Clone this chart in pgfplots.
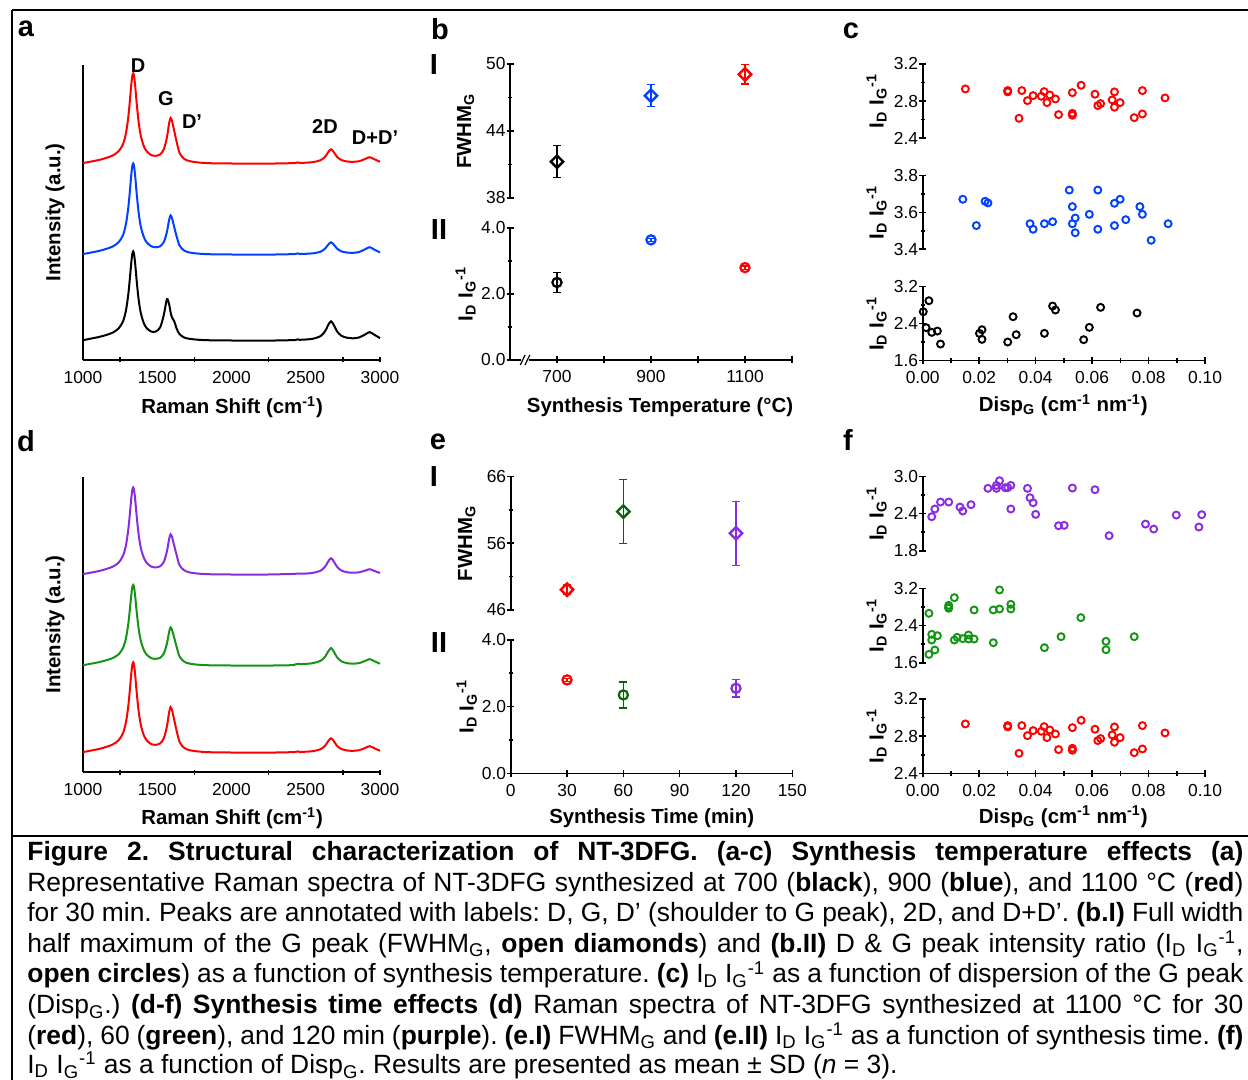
\documentclass[border=0pt]{standalone}
\usepackage{fontspec}
\setmainfont{Liberation Sans}
\usepackage{pgfplots}
\usepackage{pgfplotstable}
\pgfplotsset{compat=1.18}
\definecolor{cblue}{RGB}{0,64,255}
\definecolor{cred}{RGB}{255,0,0}
\definecolor{cpurple}{RGB}{138,43,226}
\definecolor{cgreen}{RGB}{20,150,20}
\definecolor{cdgreen}{RGB}{0,105,0}
\newcommand{\IDG}{I\textsubscript{D} I\textsubscript{G}\textsuperscript{-1}}
\newcommand{\cf}{\fontsize{13.2}{15.3}\selectfont}
\frenchspacing
\pgfplotsset{
 every non boxed x axis/.append style={x axis line style=-},
 every non boxed y axis/.append style={y axis line style=-},
 base/.style={scale only axis, anchor=south west,
  axis line style={line width=0.8pt},
  tick style={line width=0.8pt, black}, tick align=inside,
  major tick length=3.5pt, minor tick length=2.2pt,
  tick label style={font=\fontsize{8.7}{10}\selectfont},
  yticklabel style={xshift=3pt},
  label style={font=\bfseries\fontsize{10.2}{12}\selectfont},
  /pgf/number format/assume math mode=true,
  /pgf/number format/1000 sep={}, clip=false},
 noarrow/.style={x axis line style={-}, y axis line style={-}},
 y1/.style={yticklabel style={/pgf/number format/.cd, fixed, fixed zerofill, precision=1}},
 x2/.style={xticklabel style={/pgf/number format/.cd, fixed, fixed zerofill, precision=2}},
 spec/.style={base, width=148.5pt, height=147.5pt, xmin=1000, xmax=3000, ymin=0, ymax=295,
  axis x line=bottom, axis y line=left, noarrow, ytick=\empty,
  xtick={1000,1500,...,3000}, minor xtick={1250,1750,2250,2750,3000},
  major tick length=0pt, minor tick length=2.5pt, xticklabel style={yshift=-2pt},
  xlabel={Raman Shift (cm\textsuperscript{-1})}, ylabel={Intensity (a.u.)},
  ylabel style={at={(axis description cs:-0.094,0.5)}, anchor=center}},
 disp/.style={base, width=141.2pt, xmin=0, xmax=0.1, axis y line=left, noarrow, y1,
  ylabel={\IDG}, ylabel style={at={(axis description cs:-0.163,0.5)}, anchor=center}},
 dispbot/.style={axis x line=bottom, noarrow, x2, xtick={0,0.02,...,0.1}, minor x tick num=1,
  xlabel={Disp\textsubscript{G} (cm\textsuperscript{-1} nm\textsuperscript{-1})}},
 sc/.style={only marks, mark=o, mark size=1.75pt, mark options={line width=0.95pt}},
 circ/.style={only marks, mark=o, mark size=2.3pt, mark options={line width=1.1pt},
  error bars/.cd, y dir=both, y explicit, error bar style={line width=0.6pt},
  error mark options={rotate=90, mark size=2pt, line width=0.6pt}},
 diam/.style={only marks, mark=square, mark size=2.2pt, mark options={rotate=45, line width=1.2pt},
  error bars/.cd, y dir=both, y explicit, error bar style={line width=0.6pt},
  error mark options={rotate=90, mark size=2pt, line width=0.6pt}},
}
\pgfplotstableread{
x ka ba ra
1000 19.8 105.9 196.9
1100 22.8 108.8 199.8
1150 24.7 110.8 201.8
1200 27.4 113.5 204.5
1240 31.6 117.8 208.8
1270 38.8 125.1 216
1290 50.1 136.7 227.4
1305 65.5 152.4 243
1315 80.5 167.7 258.1
1325 97.1 184.9 275.1
1332 106 194 284
1338 108.7 196.6 286.7
1344 105.8 193.8 283.9
1352 95.3 182.9 273.1
1362 78.4 165.7 256.1
1375 60 146.9 237.5
1390 46.5 132.9 223.7
1410 36.7 122.8 213.7
1430 31.7 117.5 208.5
1460 28.4 113.7 204.9
1490 28.5 112.7 204.2
1520 32.7 113.8 205.6
1545 45.6 118.2 211
1565 60.8 128 222.5
1580 55.7 140.1 236.7
1590 47.6 144.5 242
1600 42.3 141.5 238.6
1615 38.6 132.5 228.6
1630 31.6 123.9 218.6
1650 25.9 114.5 207.2
1680 22.6 109.6 201.3
1720 21.1 107.4 198.8
1800 20 106.1 197.2
1900 19.6 105.6 196.6
2000 19.5 105.5 196.5
2200 19.3 105.3 196.3
2400 19.8 105.8 196.8
2430 20 106 197
2445 20.6 106.6 197.6
2460 20.2 106.1 197.1
2500 20.5 106.2 197.3
2550 21.3 106.7 197.9
2600 23.9 108.3 199.8
2630 28.7 111.4 203.2
2650 34.6 115.1 207.6
2670 38.7 117.7 210.7
2690 34.7 115.2 207.7
2710 28.8 111.5 203.3
2740 24.2 108.6 200
2780 22.2 107.4 198.5
2820 21.7 107.2 198.2
2860 22.6 108 198.8
2900 25.5 110.7 201
2930 27.9 112.8 202.8
2960 25.4 110.5 200.9
3000 21.9 107.5 198.2
}\specA
\pgfplotstableread{
x rd gd pd
1000 19.9 106.8 197.9
1100 22.8 109.6 200.7
1150 24.8 111.5 202.7
1200 27.5 113.9 205.3
1240 31.8 117.7 209.4
1270 39 124.2 216.5
1290 50.4 134.2 227.3
1305 66 148.1 242.5
1315 81.1 161.7 257.1
1325 98.1 176.8 273.4
1332 107 184.7 282
1338 109.7 187.1 284.6
1344 106.9 184.6 281.9
1352 96.1 175 271.5
1362 79.1 159.7 255.1
1375 60.5 143.2 237.1
1390 46.7 130.8 223.7
1410 36.7 121.9 214.1
1430 31.5 117.2 209
1460 27.9 113.8 205.4
1490 27.2 113.2 204.6
1520 28.6 114.3 205.8
1545 34 118.8 210.4
1565 45.5 128.4 220.6
1580 59.7 140 232.9
1590 65 144.5 237.7
1600 61.6 141.8 234.7
1615 51.6 133.8 226
1630 41.6 125.4 217.2
1650 30.2 115.6 206.9
1680 24.3 110.5 201.8
1720 21.75 108.3 199.5
1800 20.2 107 198.1
1900 19.6 106.6 197.6
2000 19.5 106.5 197.5
2200 19.3 106.4 197.4
2400 19.8 106.8 198
2430 20 107.6 198.2
2445 20.6 108.2 198.5
2460 20.1 108 198.4
2500 20.3 108.1 198.4
2550 20.9 108.9 199.2
2600 22.8 111.2 201.3
2630 26.2 115.2 205.3
2650 30.6 120.3 210.2
2670 33.7 123.9 213.8
2690 30.7 120.1 210.3
2710 26.3 114.9 205.4
2740 23 110.7 201.5
2780 21.5 108.8 199.7
2820 21.2 108.4 199.3
2860 21.8 108.9 199.7
2900 24 111.1 201.4
2930 25.8 112.9 202.8
2960 23.9 110.9 201.2
3000 21.2 108.3 199
}\specD
\begin{document}
\begin{tikzpicture}[x=0.5pt,y=-0.5pt]
\useasboundingbox (0,0) rectangle (1248,1080);
\fill[white] (0,0) rectangle (1248,1080);
% anchor points for the axes (pixel coordinates)
\coordinate (Pa) at (83,360);
\coordinate (Pd) at (83,772);
\coordinate (PbI) at (510,198);
\coordinate (PbII) at (510,360);
\coordinate (PeI) at (510.7,610);
\coordinate (PeII) at (510.7,773.3);
\coordinate (Pc1) at (922.7,138.3);
\coordinate (Pc2) at (922.7,249.3);
\coordinate (Pc3) at (922.7,360.7);
\coordinate (Pf1) at (922.7,550.7);
\coordinate (Pf2) at (922.7,662.7);
\coordinate (Pf3) at (922.7,773.3);
% frame
\draw[line width=1pt] (12,10) -- (1248,10);
\draw[line width=1pt] (12,10) -- (12,1080);
\draw[line width=1pt] (12,835.5) -- (1248,835.5);
% panel letters
\begin{scope}[every node/.style={inner sep=0, font=\bfseries\fontsize{14.5}{16}\selectfont}]
\node at (26,29) {a}; \node at (440,29) {b}; \node at (851,31) {c};
\node at (26,441) {d}; \node at (438,442) {e}; \node at (848,440) {f};
\node at (434,65) {I}; \node at (439,230) {II};
\node at (434,477) {I}; \node at (439,643) {II};
\end{scope}
% ---- a
\begin{axis}[spec, at={(Pa)}, xlabel style={at={(axis description cs:0.502,-0.159)}, anchor=center}]
\addplot[black, line width=1pt, smooth] table[x=x,y=ka]{\specA};
\addplot[cblue, line width=1pt, smooth] table[x=x,y=ba]{\specA};
\addplot[cred, line width=1pt, smooth] table[x=x,y=ra]{\specA};
\end{axis}
\begin{scope}[every node/.style={inner sep=0, font=\bfseries\fontsize{10}{12}\selectfont}]
\node at (138,66) {D}; \node at (166,99) {G}; \node at (192,122) {D’};
\node at (325,127) {2D}; \node at (375,138) {D+D’};
\end{scope}
% ---- d
\begin{axis}[spec, at={(Pd)}, xlabel style={at={(axis description cs:0.502,-0.156)}, anchor=center}]
\addplot[cred, line width=1pt, smooth] table[x=x,y=rd]{\specD};
\addplot[cgreen, line width=1pt, smooth] table[x=x,y=gd]{\specD};
\addplot[cpurple, line width=1pt, smooth] table[x=x,y=pd]{\specD};
\end{axis}
% ---- b.I
\begin{axis}[base, at={(PbI)}, width=141pt, height=67pt, xmin=600, xmax=1200, ymin=38, ymax=50,
 hide x axis, axis y line=left, noarrow, ytick={38,44,50}, minor ytick={41,47},
 ylabel={FWHM\textsubscript{G}}, ylabel style={at={(axis description cs:-0.157,0.5)}, anchor=center}]
\addplot[black, diam] coordinates {(700,41.25) +- (0,1.43)};
\addplot[cblue, diam] coordinates {(900,47.16) +- (0,1.0)};
\addplot[cred, diam] coordinates {(1100,49.07) +- (0,0.87)};
\end{axis}
% ---- b.II
\begin{axis}[base, y1, at={(PbII)}, width=141pt, height=66pt, xmin=600, xmax=1200, ymin=0, ymax=4,
 axis x line=bottom, axis y line=left, noarrow, ytick={0,2,4}, minor ytick={1,3},
 xtick={700,800,...,1200}, xticklabels={700,,900,,1100,},
 ylabel={\IDG}, ylabel style={at={(axis description cs:-0.157,0.5)}, anchor=center},
 xlabel={Synthesis Temperature (°C)}, xlabel style={at={(axis description cs:0.532,-0.356)}, anchor=center}]
\addplot[black, circ] coordinates {(700,2.35) +- (0,0.3)};
\addplot[cblue, circ] coordinates {(900,3.64) +- (0,0.05)};
\addplot[cred, circ] coordinates {(1100,2.8) +- (0,0.05)};
\draw[white, line width=3pt] (axis cs:624,0) -- (axis cs:640,0);
\draw[line width=0.6pt] (axis cs:627,0) ++(-1.2pt,-2.5pt) -- ++(2.4pt,5pt);
\draw[line width=0.6pt] (axis cs:637,0) ++(-1.2pt,-2.5pt) -- ++(2.4pt,5pt);
\end{axis}
% ---- e.I
\begin{axis}[base, at={(PeI)}, width=140.8pt, height=66.7pt, xmin=0, xmax=150, ymin=46, ymax=66,
 hide x axis, axis y line=left, noarrow, ytick={46,56,66}, minor ytick={51,61},
 ylabel={FWHM\textsubscript{G}}, ylabel style={at={(axis description cs:-0.156,0.5)}, anchor=center}]
\addplot[cred, diam] coordinates {(30,49.05) +- (0,0.7)};
\addplot[cdgreen, diam] coordinates {(60,60.75) +- (0,4.8)};
\addplot[cpurple, diam] coordinates {(120,57.5) +- (0,4.8)};
\end{axis}
% ---- e.II
\begin{axis}[base, y1, at={(PeII)}, width=140.8pt, height=66.7pt, xmin=0, xmax=150, ymin=0, ymax=4,
 axis x line=bottom, axis y line=left, noarrow, ytick={0,2,4}, minor ytick={1,3},
 xtick={0,30,...,150},
 ylabel={\IDG}, ylabel style={at={(axis description cs:-0.156,0.5)}, anchor=center},
 xlabel={Synthesis Time (min)}, xlabel style={at={(axis description cs:0.5007,-0.3376)}, anchor=center}]
\addplot[cred, circ] coordinates {(30,2.8) +- (0,0.05)};
\addplot[cdgreen, circ] coordinates {(60,2.35) +- (0,0.39)};
\addplot[cpurple, circ] coordinates {(120,2.55) +- (0,0.26)};
\end{axis}
% ---- c top (red)
\begin{axis}[disp, at={(Pc1)}, height=37.2pt, ymin=2.4, ymax=3.2, hide x axis,
 ytick={2.4,2.8,3.2}, minor ytick={2.6,3.0}]
\addplot[cred, sc] coordinates {(0.0151,2.931) (0.0301,2.913) (0.0301,2.899) (0.0351,2.913) (0.0371,2.805) (0.0391,2.859) (0.0341,2.615) (0.0420,2.852) (0.0430,2.902) (0.0440,2.784) (0.0450,2.866) (0.0470,2.823) (0.0481,2.655) (0.0530,2.891) (0.0530,2.669) (0.0530,2.648) (0.0561,2.970) (0.0610,2.874) (0.0620,2.752) (0.0630,2.773) (0.0671,2.813) (0.0679,2.899) (0.0679,2.734) (0.0699,2.784) (0.0749,2.622) (0.0778,2.913) (0.0778,2.662) (0.0858,2.834)};
\end{axis}
% ---- c mid (blue)
\begin{axis}[disp, at={(Pc2)}, height=36.8pt, ymin=3.4, ymax=3.8, hide x axis,
 ytick={3.4,3.6,3.8}, minor ytick={3.5,3.7}]
\addplot[cblue, sc] coordinates {(0.0142,3.672) (0.0190,3.529) (0.0221,3.661) (0.0231,3.652) (0.0380,3.539) (0.0391,3.509) (0.0431,3.539) (0.0460,3.550) (0.0519,3.722) (0.0530,3.632) (0.0530,3.539) (0.0540,3.490) (0.0540,3.570) (0.0590,3.590) (0.0620,3.722) (0.0620,3.509) (0.0679,3.650) (0.0679,3.529) (0.0699,3.672) (0.0719,3.561) (0.0769,3.632) (0.0778,3.590) (0.0809,3.449) (0.0869,3.539)};
\end{axis}
% ---- c bottom (black)
\begin{axis}[disp, dispbot, at={(Pc3)}, height=37pt, ymin=1.6, ymax=3.2,
 ytick={1.6,2.4,3.2}, minor ytick={2.0,2.8},
 xlabel style={at={(axis description cs:0.498,-0.599)}, anchor=center}]
\addplot[black, sc] coordinates {(0.0002,2.659) (0.0022,2.897) (0.0012,2.314) (0.0032,2.213) (0.0052,2.241) (0.0063,1.960) (0.0201,2.191) (0.0210,2.270) (0.0210,2.061) (0.0301,2.004) (0.0320,2.551) (0.0331,2.162) (0.0431,2.191) (0.0460,2.782) (0.0470,2.696) (0.0570,2.054) (0.0590,2.321) (0.0630,2.753) (0.0759,2.631)};
\end{axis}
% ---- f top (purple)
\begin{axis}[disp, at={(Pf1)}, height=37pt, ymin=1.8, ymax=3.0, hide x axis,
 ytick={1.8,2.4,3.0}, minor ytick={2.1,2.7}]
\addplot[cpurple, sc] coordinates {(0.0032,2.351) (0.0043,2.476) (0.0063,2.589) (0.0092,2.589) (0.0132,2.508) (0.0142,2.443) (0.0171,2.546) (0.0231,2.811) (0.0261,2.859) (0.0261,2.811) (0.0272,2.935) (0.0292,2.822) (0.0301,2.822) (0.0312,2.859) (0.0312,2.476) (0.0371,2.811) (0.0380,2.659) (0.0391,2.578) (0.0400,2.389) (0.0481,2.205) (0.0501,2.211) (0.0530,2.816) (0.0610,2.789) (0.0660,2.043) (0.0789,2.232) (0.0818,2.151) (0.0898,2.378) (0.0978,2.184) (0.0988,2.384)};
\end{axis}
% ---- f mid (green)
\begin{axis}[disp, at={(Pf2)}, height=37.2pt, ymin=1.6, ymax=3.2, hide x axis,
 ytick={1.6,2.4,3.2}, minor ytick={2.0,2.8}]
\addplot[cgreen, sc] coordinates {(0.0022,2.662) (0.0022,1.779) (0.0032,2.210) (0.0032,2.088) (0.0043,1.873) (0.0052,2.181) (0.0092,2.834) (0.0092,2.791) (0.0092,2.770) (0.0112,2.999) (0.0112,2.088) (0.0122,2.145) (0.0142,2.117) (0.0162,2.109) (0.0162,2.196) (0.0182,2.734) (0.0182,2.109) (0.0250,2.734) (0.0250,2.030) (0.0272,3.164) (0.0272,2.755) (0.0312,2.856) (0.0312,2.755) (0.0431,1.923) (0.0490,2.160) (0.0560,2.569) (0.0649,2.059) (0.0649,1.880) (0.0749,2.160)};
\end{axis}
% ---- f bottom (red)
\begin{axis}[disp, dispbot, at={(Pf3)}, height=37.2pt, ymin=2.4, ymax=3.2,
 ytick={2.4,2.8,3.2}, minor ytick={2.6,3.0},
 xlabel style={at={(axis description cs:0.498,-0.584)}, anchor=center}]
\addplot[cred, sc] coordinates {(0.0151,2.931) (0.0301,2.913) (0.0301,2.899) (0.0351,2.913) (0.0371,2.805) (0.0391,2.859) (0.0341,2.615) (0.0420,2.852) (0.0430,2.902) (0.0440,2.784) (0.0450,2.866) (0.0470,2.823) (0.0481,2.655) (0.0530,2.891) (0.0530,2.669) (0.0530,2.648) (0.0561,2.970) (0.0610,2.874) (0.0620,2.752) (0.0630,2.773) (0.0671,2.813) (0.0679,2.899) (0.0679,2.734) (0.0699,2.784) (0.0749,2.622) (0.0778,2.913) (0.0778,2.662) (0.0858,2.834)};
\end{axis}
% ---- caption
\begin{scope}[every node/.style={inner sep=0, anchor=base west, font=\cf}]
\node at (27,860.5) {\makebox[608pt][s]{\textbf{Figure 2. Structural characterization of NT-3DFG. (a-c) Synthesis temperature effects (a)}}};
\node at (27,891.1) {\makebox[608pt][s]{Representative Raman spectra of NT-3DFG synthesized at 700 (\textbf{black}), 900 (\textbf{blue}), and 1100 °C (\textbf{red})}};
\node at (27,921.7) {\makebox[608pt][s]{for 30 min. Peaks are annotated with labels: D, G, D’ (shoulder to G peak), 2D, and D+D’. \textbf{(b.I)} Full width}};
\node at (27,952.3) {\makebox[608pt][s]{half maximum of the G peak (FWHM\textsubscript{G}, \textbf{open diamonds}) and \textbf{(b.II)} D \& G peak intensity ratio (\IDG,}};
\node at (27,982.9) {\makebox[608pt][s]{\textbf{open circles}) as a function of synthesis temperature. \textbf{(c)} \IDG{} as a function of dispersion of the G peak}};
\node at (27,1013.5) {\makebox[608pt][s]{(Disp\textsubscript{G}.) \textbf{(d-f) Synthesis time effects (d)} Raman spectra of NT-3DFG synthesized at 1100 °C for 30}};
\node at (27,1044.1) {\makebox[608pt][s]{(\textbf{red}), 60 (\textbf{green}), and 120 min (\textbf{purple}). \textbf{(e.I)} FWHM\textsubscript{G} and \textbf{(e.II)} \IDG{} as a function of synthesis time. \textbf{(f)}}};
\node at (27,1073.5) {\IDG{} as a function of Disp\textsubscript{G}. Results are presented as mean ± SD (\textit{n} = 3).};
\end{scope}
\end{tikzpicture}
\end{document}
